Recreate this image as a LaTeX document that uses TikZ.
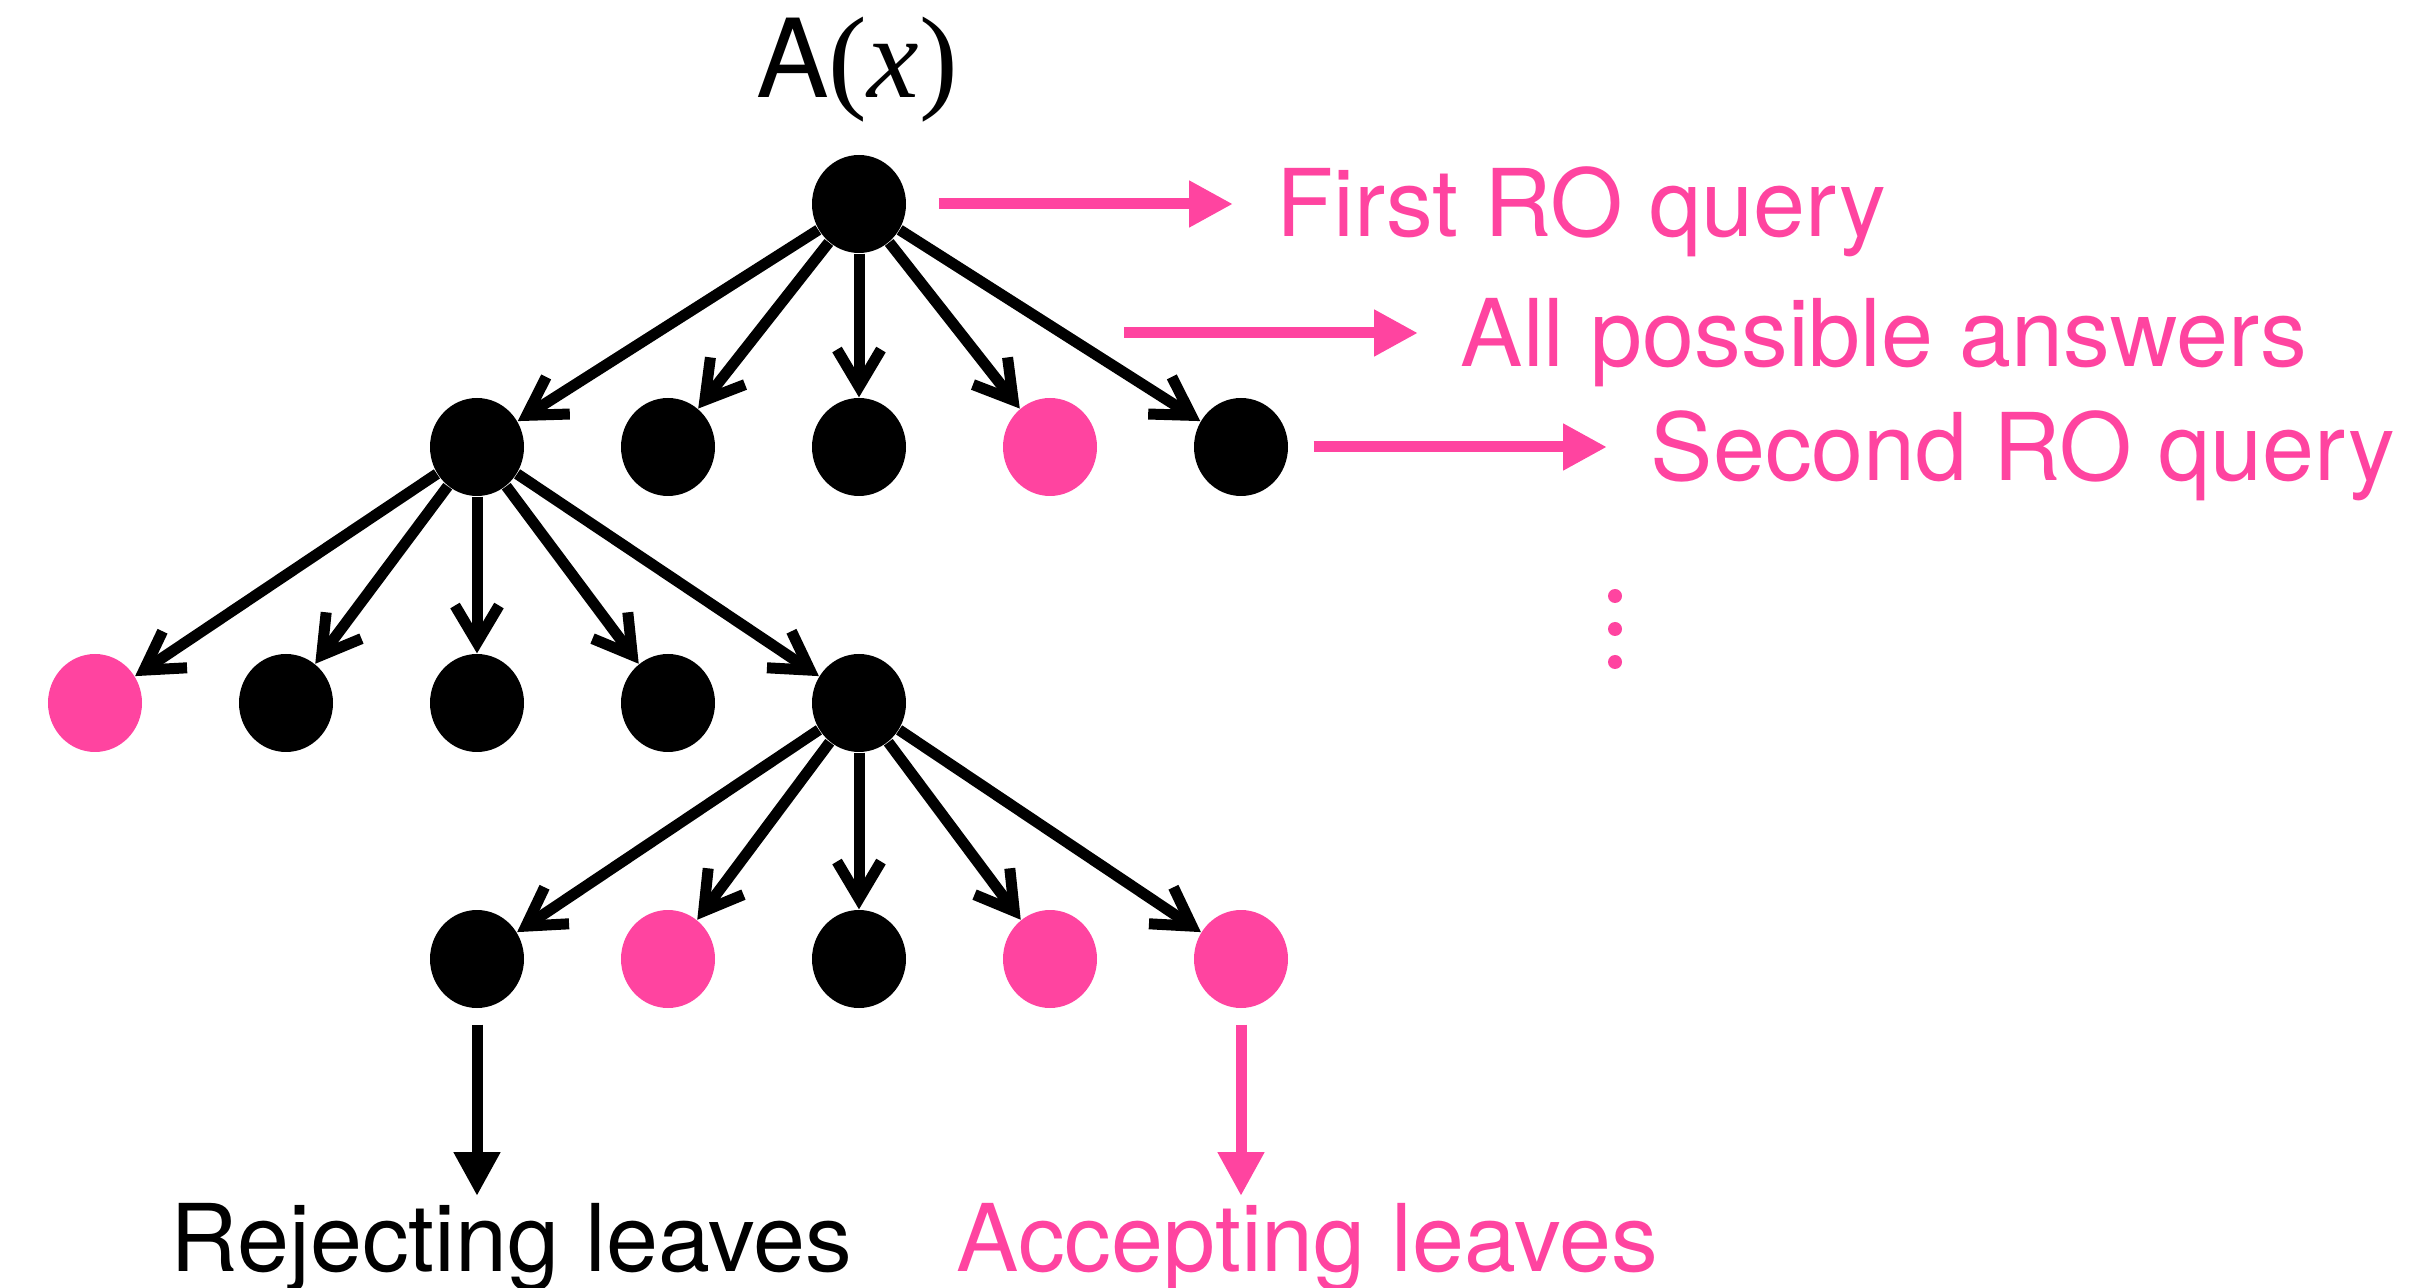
\documentclass[tikz,border=0pt]{standalone}
\usepackage{fontspec}
\setmainfont{TeX Gyre Heros}
\newfontfamily\timesfont{Liberation Serif}
\usetikzlibrary{arrows.meta,shapes.geometric}
\definecolor{ropink}{RGB}{255,68,160}
\tikzset{
    vert/.style={ellipse,fill=black,minimum width=0.94cm,minimum height=0.98cm,inner sep=0pt},
    accvert/.style={vert,fill=ropink},
    treeedge/.style={line width=0.11cm,-{Straight Barb[length=0.37cm,width=0.44cm]}},
    bigarrow/.style={line width=0.11cm,-{Triangle[length=0.44cm,width=0.44cm]}},
    lbl/.style={inner sep=0pt,anchor=base west,font=\fontsize{26.6}{30}\selectfont},
}

\begin{document}
\begin{tikzpicture}
  \useasboundingbox (0,0) rectangle (24.18,-12.88);
  \clip (0,0) rectangle (24.18,-12.88);

  % root
  \node[anchor=base,inner sep=0pt,font=\fontsize{31}{36}\selectfont] (title) at (8.57,-0.98) {A{\timesfont\fontsize{33}{36}\selectfont(\textit{x})}};
  \node[vert] (r) at (8.59,-2.04) {};

  % first level
  \node[vert] (a1) at (4.77,-4.47) {};
  \node[vert] (a2) at (6.68,-4.47) {};
  \node[vert] (a3) at (8.59,-4.47) {};
  \node[accvert] (a4) at (10.50,-4.47) {};
  \node[vert] (a5) at (12.41,-4.47) {};

  % second level
  \node[accvert] (b1) at (0.95,-7.03) {};
  \node[vert] (b2) at (2.86,-7.03) {};
  \node[vert] (b3) at (4.77,-7.03) {};
  \node[vert] (b4) at (6.68,-7.03) {};
  \node[vert] (b5) at (8.59,-7.03) {};

  % leaves
  \node[vert] (c1) at (4.77,-9.59) {};
  \node[accvert] (c2) at (6.68,-9.59) {};
  \node[vert] (c3) at (8.59,-9.59) {};
  \node[accvert] (c4) at (10.50,-9.59) {};
  \node[accvert] (c5) at (12.41,-9.59) {};

  % edges
  \foreach \k in {1,...,5} {
    \draw[treeedge] (r) -- (a\k);
    \draw[treeedge] (a1) -- (b\k);
    \draw[treeedge] (b5) -- (c\k);
  }

  % queries on the right
  \node[lbl,text=ropink] (first) at (12.76,-2.37) {First RO query};
  \node[lbl,text=ropink] (answers) at (14.60,-3.67) {All possible answers};
  \node[lbl,text=ropink] (second) at (16.50,-4.81) {Second RO query};
  \coordinate (ans) at (11.24,-3.33);

  \draw[bigarrow,ropink,shorten <=0.32cm,shorten >=0.43cm] (r.east) -- (r.east -| first.west);
  \draw[bigarrow,ropink,shorten >=0.42cm] (ans) -- (ans -| answers.west);
  \draw[bigarrow,ropink,shorten <=0.25cm,shorten >=0.43cm] (a5.east) -- (a5.east -| second.west);

  % dots
  \fill[ropink] (16.15,-5.96) circle (0.07) (16.15,-6.29) circle (0.07) (16.15,-6.62) circle (0.07);

  % leaves labels
  \node[lbl] (rej) at (1.70,-12.71) {Rejecting leaves};
  \node[lbl,text=ropink] (acc) at (9.56,-12.71) {Accepting leaves};
  \coordinate (rejtip) at (4.77,-11.96);
  \coordinate (acctip) at (12.41,-11.96);

  \draw[bigarrow,shorten <=0.16cm] (c1.south) -- (rejtip);
  \draw[bigarrow,ropink,shorten <=0.16cm] (c5.south) -- (acctip);

\end{tikzpicture}
\end{document}
